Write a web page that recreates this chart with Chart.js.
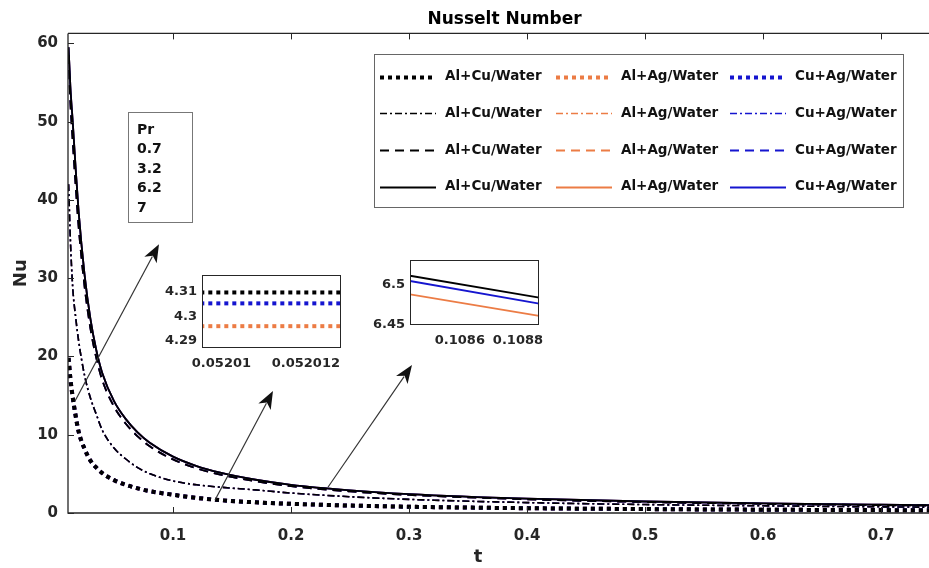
<!DOCTYPE html>
<html lang="en">
<head>
<meta charset="UTF-8">
<title>Nusselt Number</title>
<style>
  body { margin: 0; overflow: hidden; background: #fff; }
  #wrap { position: relative; width: 929px; height: 568px; overflow: hidden; }
  #wrap canvas { position: absolute; }
  #main { left: 0; top: 0; width: 941px; height: 568px; }
  #inset1 { left: 150px; top: 262px; width: 200px; height: 110px; }
  #inset2 { left: 360px; top: 247px; width: 193px; height: 102px; }
</style>
</head>
<body>
<div id="wrap">
  <canvas id="main" width="941" height="568"></canvas>
  <canvas id="inset1" width="200" height="110"></canvas>
  <canvas id="inset2" width="193" height="102"></canvas>
</div>
<script src="https://cdn.jsdelivr.net/npm/chart.js"></script>
<script>
// time values (t) shared by all main curves
const t = [0.0115, 0.013, 0.015, 0.0175, 0.02, 0.025, 0.03, 0.035, 0.04, 0.05, 0.06, 0.07, 0.08,
           0.1, 0.12, 0.14, 0.17, 0.2, 0.25, 0.3, 0.4, 0.5, 0.6, 0.7, 0.75];

// main plot: the three fluids can't be told apart at this scale (see insets)
// Pr = 0.7 (dotted)
const alCu07 = [19.8, 17.2, 14.8, 12.4, 10.4, 8.2, 6.7, 5.8, 5.1, 4.2, 3.6, 3.15, 2.8, 2.33, 1.93, 1.64, 1.36, 1.17, 0.95, 0.8, 0.61, 0.5, 0.42, 0.37, 0.35];
const alAg07 = [19.8, 17.2, 14.8, 12.4, 10.4, 8.2, 6.7, 5.8, 5.1, 4.2, 3.6, 3.15, 2.8, 2.33, 1.93, 1.64, 1.36, 1.17, 0.95, 0.8, 0.61, 0.5, 0.42, 0.37, 0.35];
const cuAg07 = [19.8, 17.2, 14.8, 12.4, 10.4, 8.2, 6.7, 5.8, 5.1, 4.2, 3.6, 3.15, 2.8, 2.33, 1.93, 1.64, 1.36, 1.17, 0.95, 0.8, 0.61, 0.5, 0.42, 0.37, 0.35];
// Pr = 3.2 (dash-dot)
const alCu32 = [42, 35, 28.8, 25, 22, 17.6, 14.7, 12.6, 10.6, 8.3, 6.9, 5.8, 5.05, 4.1, 3.6, 3.3, 2.95, 2.55, 2.08, 1.74, 1.33, 1.08, 0.92, 0.79, 0.74];
const alAg32 = [42, 35, 28.8, 25, 22, 17.6, 14.7, 12.6, 10.6, 8.3, 6.9, 5.8, 5.05, 4.1, 3.6, 3.3, 2.95, 2.55, 2.08, 1.74, 1.33, 1.08, 0.92, 0.79, 0.74];
const cuAg32 = [42, 35, 28.8, 25, 22, 17.6, 14.7, 12.6, 10.6, 8.3, 6.9, 5.8, 5.05, 4.1, 3.6, 3.3, 2.95, 2.55, 2.08, 1.74, 1.33, 1.08, 0.92, 0.79, 0.74];
// Pr = 6.2 (dashed)
const alCu62 = [58.5, 52.5, 47.5, 41.8, 36.6, 29.0, 23.6, 19.8, 17.0, 13.6, 11.4, 9.8, 8.55, 6.85, 5.7, 4.9, 4.05, 3.43, 2.76, 2.31, 1.75, 1.4, 1.17, 1.01, 0.94];
const alAg62 = [58.5, 52.5, 47.5, 41.8, 36.6, 29.0, 23.6, 19.8, 17.0, 13.6, 11.4, 9.8, 8.55, 6.85, 5.7, 4.9, 4.05, 3.43, 2.76, 2.31, 1.75, 1.4, 1.17, 1.01, 0.94];
const cuAg62 = [58.5, 52.5, 47.5, 41.8, 36.6, 29.0, 23.6, 19.8, 17.0, 13.6, 11.4, 9.8, 8.55, 6.85, 5.7, 4.9, 4.05, 3.43, 2.76, 2.31, 1.75, 1.4, 1.17, 1.01, 0.94];
// Pr = 7 (solid)
const alCu7 = [59.5, 54.5, 50, 44, 38.5, 30.5, 24.8, 20.8, 17.9, 14.3, 12.0, 10.3, 9.0, 7.2, 6.0, 5.15, 4.25, 3.6, 2.9, 2.42, 1.83, 1.47, 1.23, 1.06, 0.99];
const alAg7 = [59.5, 54.5, 50, 44, 38.5, 30.5, 24.8, 20.8, 17.9, 14.3, 12.0, 10.3, 9.0, 7.2, 6.0, 5.15, 4.25, 3.6, 2.9, 2.42, 1.83, 1.47, 1.23, 1.06, 0.99];
const cuAg7 = [59.5, 54.5, 50, 44, 38.5, 30.5, 24.8, 20.8, 17.9, 14.3, 12.0, 10.3, 9.0, 7.2, 6.0, 5.15, 4.25, 3.6, 2.9, 2.42, 1.83, 1.47, 1.23, 1.06, 0.99];

const fluids = ['Al+Cu/Water', 'Al+Ag/Water', 'Cu+Ag/Water'];
const prValues = ['0.7', '3.2', '6.2', '7'];
const xTicks = [0.1, 0.2, 0.3, 0.4, 0.5, 0.6, 0.7];
const xTickLabels = ['0.1', '0.2', '0.3', '0.4', '0.5', '0.6', '0.7'];
const yTicks = [0, 10, 20, 30, 40, 50, 60];

// zoomed insets
const inset1T = [0.0520095, 0.0520129];
const inset1AlCu = [4.3098, 4.3098];
const inset1AlAg = [4.2959, 4.2959];
const inset1CuAg = [4.3053, 4.3053];
const inset1XTicks = [0.05201, 0.052012];
const inset1XLabels = ['0.05201', '0.052012'];
const inset1YTicks = [4.29, 4.3, 4.31];
const inset1YLabels = ['4.29', '4.3', '4.31'];

const inset2T = [0.1084282, 0.1088732];
const inset2AlCu = [6.5116, 6.4841];
const inset2AlAg = [6.4884, 6.4613];
const inset2CuAg = [6.505, 6.4766];
const inset2XTicks = [0.1086, 0.1088];
const inset2XLabels = ['0.1086', '0.1088'];
const inset2YTicks = [6.45, 6.5];
const inset2YLabels = ['6.45', '6.5'];

// arrows, in data units (t, Nu)
const arrowTail = [[0.01695, 14.3], [0.1356, 1.66], [0.2314, 3.32]];
const arrowHead = [[0.0881, 34.35], [0.1847, 15.6], [0.3025, 18.9]];

const colors = ['#000000', '#EC7C45', '#1515CF'];
const lineStyles = [
  { dash: [4, 4], width: 4 },
  { dash: [7, 3, 2, 3], width: 1.6 },
  { dash: [9, 6], width: 1.8 },
  { dash: [], width: 1.8 }
];
const drawOrder = [0, 2, 1]; // black on top

Chart.defaults.font.family = "'DejaVu Sans', sans-serif";
Chart.defaults.font.weight = 'bold';
Chart.defaults.color = '#262626';

const series = [
  [alCu07, alAg07, cuAg07],
  [alCu32, alAg32, cuAg32],
  [alCu62, alAg62, cuAg62],
  [alCu7, alAg7, cuAg7]
];

const datasets = [];
for (let r = 0; r < series.length; r++) {
  for (let c = 0; c < fluids.length; c++) {
    datasets.push({
      label: fluids[c] + ' Pr=' + prValues[r],
      data: t.map((x, i) => ({ x: x, y: series[r][c][i] })),
      borderColor: colors[c],
      borderDash: lineStyles[r].dash,
      borderWidth: lineStyles[r].width,
      borderCapStyle: 'butt',
      pointRadius: 0,
      cubicInterpolationMode: 'monotone',
      order: drawOrder[c],
      row: r,
      col: c
    });
  }
}

// box with ticks pointing inwards, like matlab
const axesFrame = {
  id: 'axesFrame',
  afterDatasetsDraw(chart) {
    const { ctx, chartArea: a, scales } = chart;
    ctx.save();
    ctx.strokeStyle = '#262626';
    ctx.lineWidth = 1.3;
    ctx.beginPath();
    ctx.moveTo(a.left, a.top); ctx.lineTo(a.right, a.top);
    ctx.moveTo(a.left, a.top); ctx.lineTo(a.left, a.bottom);
    ctx.lineTo(a.right, a.bottom);
    ctx.stroke();
    ctx.lineWidth = 1;
    ctx.beginPath();
    yTicks.forEach(v => {
      const y = Math.round(scales.y.getPixelForValue(v)) + 0.5;
      ctx.moveTo(a.left, y); ctx.lineTo(a.left + 6, y);
    });
    xTicks.forEach(v => {
      const x = Math.round(scales.x.getPixelForValue(v)) + 0.5;
      ctx.moveTo(x, a.bottom); ctx.lineTo(x, a.bottom - 6);
      ctx.moveTo(x, a.top); ctx.lineTo(x, a.top + 6);
    });
    ctx.stroke();
    ctx.restore();
  }
};

const annotations = {
  id: 'annotations',
  afterDraw(chart) {
    const { ctx, scales } = chart;
    ctx.save();

    // x label, sits left of centre in the original
    ctx.fillStyle = '#262626';
    ctx.font = "bold 18px 'DejaVu Sans'";
    ctx.textAlign = 'center';
    ctx.textBaseline = 'middle';
    ctx.fillText('t', 478, 557);

    // arrows
    ctx.strokeStyle = '#333';
    ctx.fillStyle = '#111';
    ctx.lineWidth = 1.2;
    for (let i = 0; i < arrowTail.length; i++) {
      const x0 = scales.x.getPixelForValue(arrowTail[i][0]);
      const y0 = scales.y.getPixelForValue(arrowTail[i][1]);
      const x1 = scales.x.getPixelForValue(arrowHead[i][0]);
      const y1 = scales.y.getPixelForValue(arrowHead[i][1]);
      const ang = Math.atan2(y1 - y0, x1 - x0);
      const len = 18, half = 7;
      const bx = x1 - len * Math.cos(ang), by = y1 - len * Math.sin(ang);
      ctx.beginPath();
      ctx.moveTo(x0, y0); ctx.lineTo(bx + 4 * Math.cos(ang), by + 4 * Math.sin(ang));
      ctx.stroke();
      ctx.beginPath();
      ctx.moveTo(x1, y1);
      ctx.lineTo(bx - half * Math.sin(ang), by + half * Math.cos(ang));
      ctx.lineTo(bx + 5 * Math.cos(ang), by + 5 * Math.sin(ang));
      ctx.lineTo(bx + half * Math.sin(ang), by - half * Math.cos(ang));
      ctx.closePath();
      ctx.fill();
    }

    // Pr box
    ctx.fillStyle = '#fff';
    ctx.strokeStyle = '#777';
    ctx.lineWidth = 1;
    ctx.fillRect(128, 112, 64, 110);
    ctx.strokeRect(128.5, 112.5, 64, 110);
    ctx.fillStyle = '#111';
    ctx.font = "bold 14px 'DejaVu Sans'";
    ctx.textBaseline = 'middle';
    ctx.textAlign = 'left';
    ['Pr'].concat(prValues).forEach((s, i) => ctx.fillText(s, 137, 130 + i * 19.5));

    // legend
    const rows = [76.7, 113.3, 150, 186.7];
    const cols = [380, 556, 730];
    ctx.fillStyle = '#fff';
    ctx.strokeStyle = '#666';
    ctx.fillRect(374, 54, 529, 153);
    ctx.strokeRect(374.5, 54.5, 529, 153);
    ctx.font = "bold 13.5px 'DejaVu Sans'";
    chart.data.datasets.forEach(ds => {
      const x = cols[ds.col], y = Math.round(rows[ds.row]) + 0.5;
      ctx.save();
      ctx.strokeStyle = ds.borderColor;
      ctx.lineWidth = ds.borderWidth;
      ctx.setLineDash(ds.borderDash);
      ctx.beginPath();
      ctx.moveTo(x, y); ctx.lineTo(x + 56, y);
      ctx.stroke();
      ctx.restore();
      ctx.fillStyle = '#111';
      ctx.fillText(fluids[ds.col], x + 65, rows[ds.row]);
    });
    ctx.restore();
  }
};

new Chart(document.getElementById('main'), {
  type: 'line',
  data: { datasets: datasets },
  options: {
    responsive: false,
    animation: false,
    layout: { padding: 0 },
    plugins: {
      legend: { display: false },
      tooltip: { enabled: false },
      title: {
        display: true, text: 'Nusselt Number', fullSize: false, color: '#000',
        font: { size: 17, weight: 'bold' }, padding: { top: 9, bottom: 4 }
      }
    },
    scales: {
      x: {
        type: 'linear', min: 0.011, max: 0.7508,
        grid: { display: false, drawTicks: false }, border: { display: false },
        afterBuildTicks: s => { s.ticks = xTicks.map(v => ({ value: v })); },
        afterFit: s => { s.height = 55; },
        ticks: { padding: 14, autoSkip: false, maxRotation: 0, font: { size: 15 },
                 callback: (v, i) => xTickLabels[i] }
      },
      y: {
        min: 0, max: 61.28,
        grid: { display: false, drawTicks: false }, border: { display: false },
        afterBuildTicks: s => { s.ticks = yTicks.map(v => ({ value: v })); },
        afterFit: s => { s.width = 68; },
        ticks: { padding: 10, font: { size: 15 } },
        title: { display: true, text: 'Nu', font: { size: 18 }, padding: { top: 11, bottom: 0 } }
      }
    }
  },
  plugins: [axesFrame, annotations]
});

// white plot area plus thin box for the zoom windows
const insetFrame = {
  id: 'insetFrame',
  beforeDatasetsDraw(chart) {
    const { ctx, chartArea: a } = chart;
    ctx.save();
    ctx.fillStyle = '#fff';
    ctx.fillRect(a.left, a.top, a.width, a.height);
    ctx.restore();
  },
  afterDatasetsDraw(chart) {
    const { ctx, chartArea: a } = chart;
    ctx.save();
    ctx.strokeStyle = '#262626';
    ctx.lineWidth = 1;
    ctx.strokeRect(Math.round(a.left) + 0.5, Math.round(a.top) + 0.5,
                   Math.round(a.width) - 1, Math.round(a.height) - 1);
    ctx.restore();
  }
};

function insetChart(id, tt, rows, style, xr, yr, xt, xl, yt, yl, axisW, padRight, padTop) {
  const sets = rows.map((vals, c) => ({
    data: tt.map((x, i) => ({ x: x, y: vals[i] })),
    borderColor: colors[c],
    borderDash: style.dash,
    borderWidth: style.width,
    borderCapStyle: 'butt',
    pointRadius: 0,
    order: drawOrder[c]
  }));
  return new Chart(document.getElementById(id), {
    type: 'line',
    data: { datasets: sets },
    options: {
      responsive: false,
      animation: false,
      layout: { padding: { top: padTop, right: padRight, left: 0, bottom: 0 } },
      plugins: { legend: { display: false }, tooltip: { enabled: false } },
      scales: {
        x: {
          type: 'linear', min: xr[0], max: xr[1],
          grid: { display: false, drawTicks: false }, border: { display: false },
          afterBuildTicks: s => { s.ticks = xt.map(v => ({ value: v })); },
          afterFit: s => { s.height = 24; },
          ticks: { padding: 8, autoSkip: false, maxRotation: 0, font: { size: 13 },
                   callback: (v, i) => xl[i] }
        },
        y: {
          min: yr[0], max: yr[1],
          grid: { display: false, drawTicks: false }, border: { display: false },
          afterBuildTicks: s => { s.ticks = yt.map(v => ({ value: v })); },
          afterFit: s => { s.width = axisW; },
          ticks: { padding: 5, font: { size: 13 }, callback: (v, i) => yl[i] }
        }
      }
    },
    plugins: [insetFrame]
  });
}

insetChart('inset1', inset1T, [inset1AlCu, inset1AlAg, inset1CuAg], lineStyles[0],
  [0.05200954, 0.05201283], [4.2869, 4.317],
  inset1XTicks, inset1XLabels, inset1YTicks, inset1YLabels, 52, 8, 13);

insetChart('inset2', inset2T, [inset2AlCu, inset2AlAg, inset2CuAg], lineStyles[3],
  [0.1084282, 0.1088732], [6.45, 6.53125],
  inset2XTicks, inset2XLabels, inset2YTicks, inset2YLabels, 50, 12, 13);
</script>
</body>
</html>
